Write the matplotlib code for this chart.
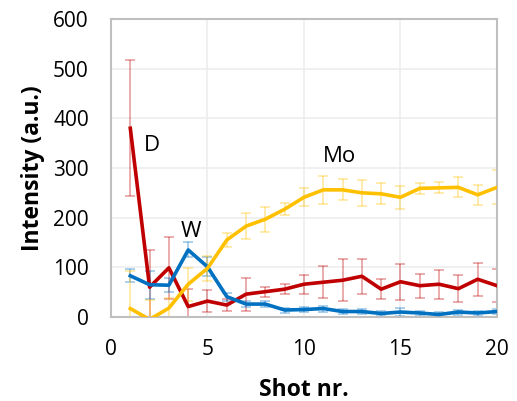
import matplotlib
matplotlib.use("Agg")
import matplotlib.pyplot as plt

shots = list(range(1, 21))

d_vals = [380, 60, 99, 21, 32, 24, 46, 51, 56, 66, 70, 74, 82, 56, 71, 63, 66, 57, 76, 63]
d_err = [137, 75, 62, 35, 22, 12, 33, 10, 10, 19, 32, 42, 35, 20, 36, 24, 29, 27, 33, 33]

w_vals = [83, 65, 64, 135, 101, 41, 26, 26, 14, 15, 17, 11, 11, 7, 10, 8, 5, 10, 8, 11]
w_err = [13, 28, 14, 15, 19, 8, 6, 6, 5, 5, 6, 5, 5, 5, 8, 5, 5, 5, 5, 5]

mo_vals = [17, -5, 18, 66, 98, 155, 183, 197, 217, 241, 256, 256, 250, 248, 241, 259, 260, 261, 246, 261]
mo_err = [75, 40, 20, 33, 25, 15, 26, 25, 12, 18, 28, 21, 26, 21, 23, 11, 11, 20, 20, 34]

series = [
    ("D", d_vals, d_err, "#C00000"),
    ("W", w_vals, w_err, "#0070C0"),
    ("Mo", mo_vals, mo_err, "#FFC000"),
]

plt.rcParams["font.family"] = ["Open Sans", "DejaVu Sans"]

fig = plt.figure(figsize=(5.17, 4.01), dpi=100)
ax = fig.add_axes([0.2147, 0.2095, 0.7466, 0.7431])

for name, vals, errs, color in series:
    ax.errorbar(shots, vals, yerr=errs, fmt="none", ecolor=color, alpha=0.35,
                elinewidth=1.3, capsize=3.6, capthick=1.3, zorder=2)
for name, vals, errs, color in series:
    ax.plot(shots, vals, color=color, linewidth=2.6, zorder=3,
            solid_joinstyle="round")

ax.text(1.71, 346, "D", fontsize=16, ha="left", va="center")
ax.text(3.61, 172, "W", fontsize=16, ha="left", va="center")
ax.text(11.0, 324, "Mo", fontsize=16, ha="left", va="center")

ax.set_xlim(0, 20)
ax.set_ylim(0, 600)
ax.set_xticks([0, 5, 10, 15, 20])
ax.set_yticks(range(0, 601, 100))
ax.tick_params(length=0, labelsize=15)
ax.tick_params(axis="y", pad=16)
ax.tick_params(axis="x", pad=16)
ax.grid(True, color="#EDEDED", linewidth=1.2, zorder=0)
ax.set_axisbelow(True)
for sp in ax.spines.values():
    sp.set_color("#BFBFBF")
    sp.set_linewidth(1.5)

ax.set_xlabel("Shot nr.", fontsize=16.5, fontweight="bold", labelpad=13)
ax.set_ylabel("Intensity (a.u.)", fontsize=16.5, fontweight="bold", labelpad=6)

fig.savefig("out.png", dpi=100)
